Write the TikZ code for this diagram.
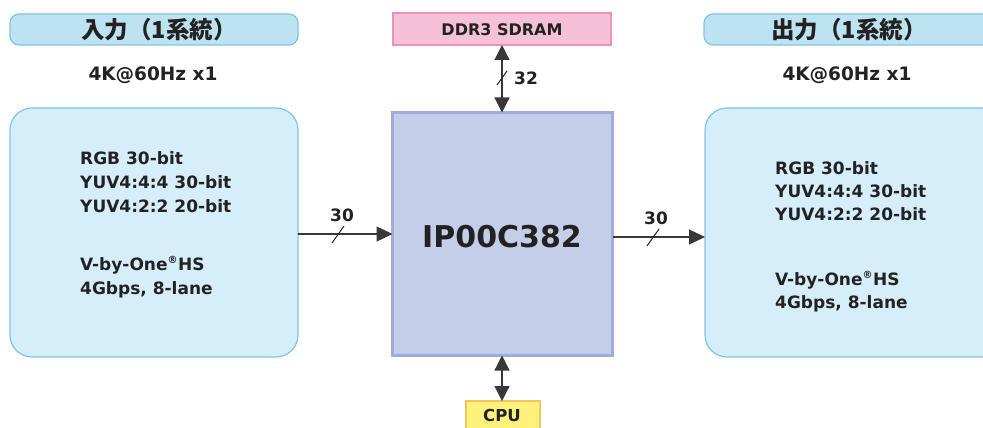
\documentclass[tikz,border=0pt]{standalone}
\usepackage{fontspec}
\setmainfont{DejaVu Sans}
\newfontfamily\jpfont{Noto Sans CJK JP}
\usetikzlibrary{arrows.meta}
\definecolor{hdrfill}{HTML}{BDE3F0}
\definecolor{hdrline}{HTML}{7FC3E6}
\definecolor{boxfill}{HTML}{D6EEFA}
\definecolor{boxline}{HTML}{7CC6EC}
\definecolor{ipfill}{HTML}{C5CEE9}
\definecolor{ipline}{HTML}{9EAEDC}
\definecolor{ddrfill}{HTML}{F7C0D9}
\definecolor{ddrline}{HTML}{EE90BA}
\definecolor{cpufill}{HTML}{FFF27C}
\definecolor{cpuline}{HTML}{F4C45E}
\definecolor{txt}{HTML}{222222}
\tikzset{
  hdr/.style={draw=hdrline, fill=hdrfill, line width=1.2pt, rounded corners=9pt},
  bigbox/.style={draw=boxline, fill=boxfill, line width=1.2pt, rounded corners=22pt},
  hdrtext/.style={text=txt, font=\jpfont\bfseries\fontsize{23.5}{25}\selectfont, inner sep=0pt},
  lbl/.style={text=txt, font=\bfseries\fontsize{17}{20}\selectfont, inner sep=0pt},
  fmt/.style={text=txt, font=\bfseries\fontsize{18.5}{20}\selectfont, inner sep=0pt},
  info/.style={text=txt, font=\bfseries\fontsize{17}{24}\selectfont, inner sep=0pt, anchor=north west, align=left},
  link/.style={draw=txt!90, line width=1.2pt},
  tip/.style={-{Triangle[length=16pt,width=15pt]}},
  bitip/.style={{Triangle[length=15pt,width=15pt]}-{Triangle[length=15pt,width=15pt]}}
}
\begin{document}
\begin{tikzpicture}[x=1pt,y=-1pt]
\useasboundingbox (0,0) rectangle (983,428);
% headers
\path[hdr] (10,14) rectangle (298,45);
\node[hdrtext] (inhdr) at (159,30) {入力（1系統）};
\path[hdr] (704,14) rectangle (1010,45);
\node[hdrtext] (outhdr) at (849,30) {出力（1系統）};
\node[fmt] (infmt) at (153,75) {4K@60Hz x1};
\node[fmt] (outfmt) at (847,75) {4K@60Hz x1};
% big boxes
\path[bigbox] (10,108) rectangle (298,357);
\coordinate (inbox) at (298,234);
\node[info] (intext) at (80,151) {RGB 30-bit\\YUV4:4:4 30-bit\\YUV4:2:2 20-bit\\[34pt]V-by-One\textsuperscript{\fontsize{10}{10}\selectfont®}HS\\4Gbps, 8-lane};
\path[bigbox] (705,108) rectangle (1010,357);
\coordinate (outbox) at (705,237);
\node[info, font=\bfseries\fontsize{17}{23}\selectfont] (outtext) at (775,161) {RGB 30-bit\\YUV4:4:4 30-bit\\YUV4:2:2 20-bit\\[42pt]V-by-One\textsuperscript{\fontsize{10}{10}\selectfont®}HS\\4Gbps, 8-lane};
% center
\node[draw=ipline, fill=ipfill, line width=3pt, minimum width=220pt, minimum height=243pt, anchor=north west, inner sep=0pt, outer sep=0pt] (ip) at (392.5,112.5) {};
\node[text=txt, font=\bfseries\fontsize{30}{32}\selectfont] (iplbl) at (502,237) {IP00C382};
% ddr
\node[draw=ddrline, fill=ddrfill, line width=2pt, minimum width=218pt, minimum height=32pt, anchor=north west, inner sep=0pt, outer sep=0pt] (ddr) at (393,13) {};
\node[text=txt, font=\bfseries\fontsize{16}{19}\selectfont, inner sep=0pt] (ddrlbl) at (502,30) {DDR3 SDRAM};
% cpu
\node[draw=cpuline, fill=cpufill, line width=1.5pt, minimum width=74pt, minimum height=36pt, anchor=north west, inner sep=0pt, outer sep=0pt] (cpu) at (466,401) {};
\node[text=txt, font=\bfseries\fontsize{16.5}{20}\selectfont, inner sep=0pt] (cpulbl) at (502,415) {CPU};
% connectors
\draw[link, bitip] (ddr.south -| 502,0) -- (ip.north -| 502,0);
\draw[link, bitip] (ip.south -| 502,0) -- (cpu.north -| 502,0);
\draw[link, tip] (inbox) -- (ip.west |- inbox);
\draw[link, tip] (ip.east |- outbox) -- (outbox);
% slashes
\draw[txt, line width=1pt] (497,85) -- (507,71);
\node[lbl] (w32) at (526,78) {32};
\draw[txt, line width=1pt] (332,243) -- (344,226);
\node[lbl] (w30a) at (342,215) {30};
\draw[txt, line width=1pt] (647,246) -- (659,229);
\node[lbl] (w30b) at (656,218) {30};
\end{tikzpicture}
\end{document}
